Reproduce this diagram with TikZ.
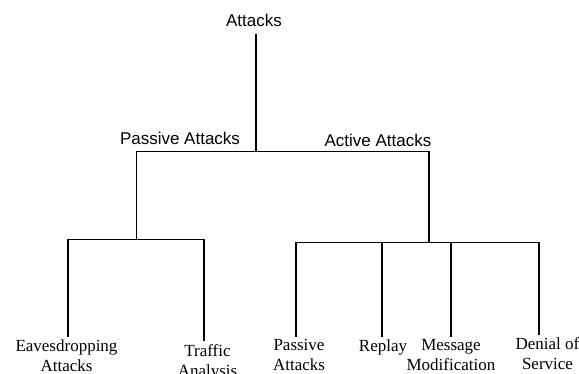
\documentclass[tikz,border=0pt]{standalone}
\usepackage{fontspec}
\setmainfont{Liberation Serif}
\setsansfont{Liberation Sans}
\usepackage{tikz}
\tikzset{
  every picture/.style = {
    line width = 1.1pt,
    x = 1pt,
    y = -1pt
  }
  , % labels of the upper levels
  label-top/.style = {
    font = \fontsize{17}{20}\selectfont\sffamily,
    anchor = base,
    inner sep = 0pt
  }
  , % labels of the leaves
  leaf/.style = {
    font = \fontsize{17}{20}\selectfont,
    align = center,
    anchor = north,
    inner sep = 2pt
  }
}

\begin{document}
\begin{tikzpicture}
\useasboundingbox (0,0) rectangle (579,374);
\node[label-top, inner ysep = 6pt] at (254,27) (atk) {Attacks};
\node[label-top] at (180,145) (pas) {Passive Attacks};
\node[label-top] at (378,146.5) (act) {Active Attacks};
\coordinate (top) at (256,151.5);
\coordinate (pas-j) at (136.5,151.5);
\coordinate (act-j) at (429,151.5);
\coordinate (pas-bar) at (136.5,239.5);
\coordinate (act-bar) at (429,242.5);
% leaves
\node[leaf] at (66.5,337) (eav) {Eavesdropping\\Attacks};
\node[leaf] at (207.5,341.5) (trf) {Traffic\\Analysis};
\node[leaf] at (299,337) (psv) {Passive\\Attacks};
\node[leaf] at (383,337) (rpl) {Replay};
\node[leaf] at (451,337) (msg) {Message\\Modification};
\node[leaf] at (547.5,335) (dos) {Denial of\\Service};
\coordinate (eav-top) at (68,239.5);
\coordinate (trf-top) at (204,239.5);
\coordinate (psv-top) at (296,242.5);
\coordinate (rpl-top) at (382,242.5);
\coordinate (msg-top) at (451,242.5);
\coordinate (dos-top) at (539,242.5);
\draw (top |- atk.south) -- (top);
\draw (pas-j) -- (act-j);
\draw (pas-j) -- (pas-bar);
\draw (act-j) -- (act-bar);
\draw (eav-top) -- (trf-top);
\draw (psv-top) -- (dos-top);
\foreach \n in {eav, trf, psv, rpl, msg, dos}
  \draw (\n-top) -- (\n-top |- \n.north);
\end{tikzpicture}
\end{document}
